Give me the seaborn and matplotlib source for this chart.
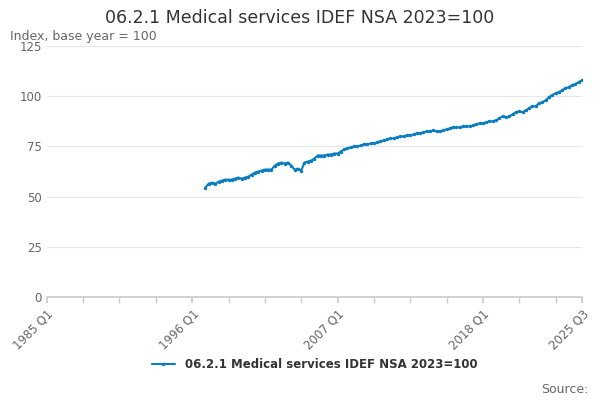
import matplotlib
matplotlib.use("Agg")
import matplotlib.pyplot as plt
import seaborn as sns
import pandas as pd

values = [
 54.5,56.5,57,56.5, 57.5,58,58.5,58.5, 58.5,59,59.5,59, 59.5,60,61,62,
 62.5,63,63.5,63.5, 63.5,65.5,66.5,67, 66.5,67,65.5,63.5, 64,63,67,67.5,
 68,69,70.5,70.5, 70.5,71,71,71.5, 71.5,72.5,73.5,74, 74.5,75,75,75.5,
 76,76,76.5,76.5, 77,77.5,78,78.5, 79,79,79.5,80, 80,80.5,80.5,81,
 81.5,81.5,82,82.5, 82.5,83,82.5,82.5, 83,83.5,84,84.5, 84.5,84.5,85,85,
 85,85.5,86,86.5, 86.5,87,87.5,87.5, 88,89,90,89.5, 90,91,92,92.5,
 92,93,94,95, 95,96.5,97,98, 99.5,100.5,101.5,102, 103,104,104.5,105.5,
 106,107,108]
start_q = 48  # 1997 Q1, quarters since 1985 Q1
tick_labels = ["1985 Q1","1996 Q1","2007 Q1","2018 Q1","2025 Q3"]
tick_pos = [0,44,88,132,162]
series = "06.2.1 Medical services IDEF NSA 2023=100"

df = pd.DataFrame({"q":range(start_q,start_q+len(values)),"v":values})
sns.set_theme(style="white")
fig, ax = plt.subplots(figsize=(6,4), dpi=100)
fig.subplots_adjust(left=0.078, right=0.97, top=0.885, bottom=0.257)
sns.lineplot(data=df, x="q", y="v", ax=ax, color="#0a7dc1", marker="o",
             markersize=2.5, markeredgewidth=0, linewidth=1.5, label=series)
ax.set_xlim(0,162); ax.set_ylim(0,125)
ax.set_yticks([0,25,50,75,100,125])
ax.grid(axis="y", color="#e6e6e6", lw=0.8)
ax.set_xticks([i*11 for i in range(15)], minor=True)
ax.set_xticks(tick_pos)
ax.set_xticklabels(tick_labels, rotation=45, ha="right", rotation_mode="anchor", color="#666", fontsize=8.5)
ax.tick_params(axis="x", which="both", length=4, color="#ccc", bottom=True)
ax.tick_params(axis="y", length=0, labelcolor="#666", labelsize=8.5)
for s in ["top","right","left"]: ax.spines[s].set_visible(False)
ax.spines["bottom"].set_color("#ccc")
ax.set_xlabel(""); ax.set_ylabel("")
fig.text(0.5,0.978,series,ha="center",va="top",fontsize=12.5,color="#333")
fig.text(0.017,0.925,"Index, base year = 100",ha="left",va="top",fontsize=9,color="#666")
fig.text(0.98,0.01,"Source:",ha="right",va="bottom",fontsize=9,color="#666")
ax.legend(loc="upper center", bbox_to_anchor=(0.5,-0.2), frameon=False,
          prop={"weight":"bold","size":8.5}, labelcolor="#333")
fig.savefig("out.png", dpi=100)
